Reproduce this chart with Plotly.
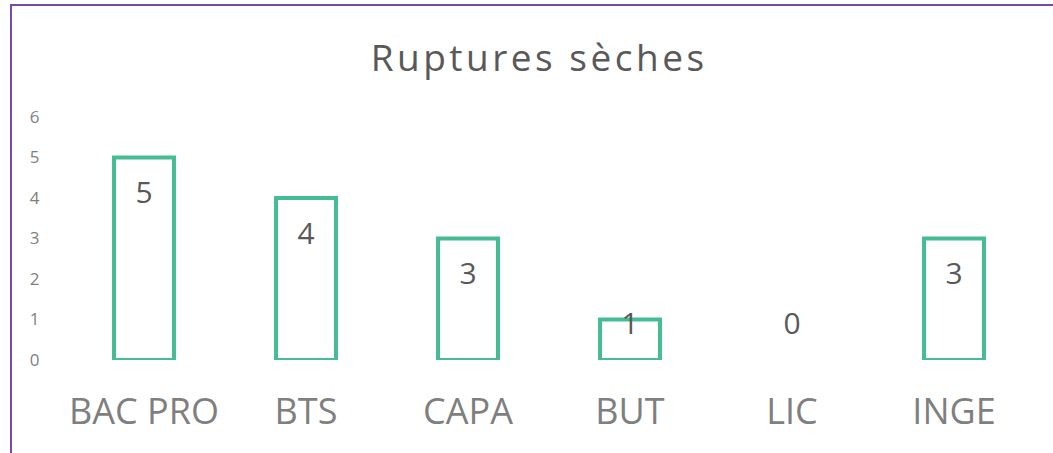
import plotly.graph_objects as go

categories = ["BAC PRO", "BTS", "CAPA", "BUT", "LIC", "INGE"]
values = [5, 4, 3, 1, 0, 3]
y_ticks = [0, 1, 2, 3, 4, 5, 6]

teal = "#44BC96"
FONT = "Open Sans, Lato, sans-serif"
label_y = [max(v - 0.95, 0.82) for v in values]
line_widths = [4 if v > 0 else 0 for v in values]

fig = go.Figure()
fig.add_trace(go.Bar(
    x=categories, y=values,
    marker=dict(color="rgba(255,255,255,0)", line=dict(color=teal, width=line_widths)),
    width=0.37, hoverinfo="skip", showlegend=False,
))
fig.add_trace(go.Scatter(
    x=categories, y=label_y, mode="text", text=[str(v) for v in values],
    textfont=dict(family=FONT, size=30, color="#595959"),
    showlegend=False, hoverinfo="skip", cliponaxis=False,
))

fig.update_layout(
    width=1053, height=453,
    margin=dict(l=63, r=18, t=117, b=93),
    paper_bgcolor="white", plot_bgcolor="white",
    title=dict(text="Ruptures sèches", x=0.512, xanchor="center", y=0.872, yanchor="middle",
               font=dict(family=FONT, size=37, color="#595959")),
    xaxis=dict(showgrid=False, zeroline=False, showline=False,
               ticks="outside", ticklen=20, tickcolor="rgba(0,0,0,0)",
               tickfont=dict(family=FONT, size=36, color="#7F7F7F")),
    yaxis=dict(range=[0, 6], tickvals=y_ticks, showgrid=False, zeroline=False, showline=False,
               ticks="outside", ticklen=19, tickcolor="rgba(0,0,0,0)",
               tickfont=dict(family=FONT, size=17, color="#7F7F7F")),
    shapes=[dict(type="rect", xref="paper", yref="paper", x0=-0.0535, x1=1.5, y0=-1, y1=1.461,
                 line=dict(color="#7A48B4", width=2), fillcolor="rgba(0,0,0,0)", layer="above")],
)

post = (
    "document.body.style.margin='0';"
    "document.querySelectorAll('.gtitle').forEach(function(t){t.style.letterSpacing='3.5px';});"
)
fig.write_html("out.html", post_script=post, config={"displayModeBar": False})
